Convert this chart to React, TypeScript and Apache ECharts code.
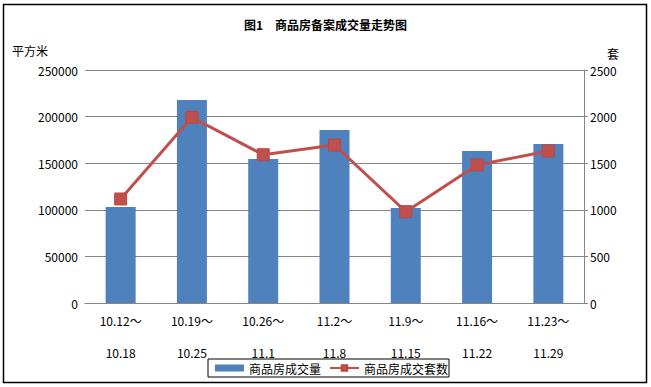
import React, { useEffect, useRef } from "react";
import * as echarts from "echarts";

const categories = [
  "10.12～\n10.18",
  "10.19～\n10.25",
  "10.26～\n11.1",
  "11.2～\n11.8",
  "11.9～\n11.15",
  "11.16～\n11.22",
  "11.23～\n11.29",
];
const areaValues = [103000, 217800, 154500, 185600, 102000, 163000, 170600];
const unitValues = [1116, 1992, 1591, 1695, 980, 1481, 1631];
const leftTicks = { min: 0, max: 250000, interval: 50000 };
const rightTicks = { min: 0, max: 2500, interval: 500 };

const FONT = "'Noto Sans CJK SC', 'DejaVu Sans', sans-serif";

export default function App() {
  const ref = useRef<HTMLDivElement>(null);
  useEffect(() => {
    document.body.style.margin = "0";
    const chart = echarts.init(ref.current!, null, { renderer: "svg" });
    chart.setOption({
      animation: false,
      backgroundColor: "#fff",
      textStyle: { fontFamily: FONT },
      title: {
        text: "图1　商品房备案成交量走势图",
        left: "center",
        top: 13,
        textStyle: { fontSize: 12, fontWeight: "bold", color: "#000", fontFamily: FONT },
      },
      graphic: [
        {
          type: "rect",
          shape: { x: 3.5, y: 4.5, width: 643, height: 378 },
          style: { fill: "none", stroke: "#000", lineWidth: 1.5 },
          silent: true,
        },
        {
          type: "text",
          x: 12,
          y: 44,
          style: { text: "平方米", fontSize: 12, fill: "#000", fontFamily: FONT },
        },
        {
          type: "text",
          x: 607,
          y: 47,
          style: { text: "套", fontSize: 12, fill: "#000", fontFamily: FONT },
        },
      ],
      legend: {
        left: 208,
        top: 359,
        orient: "horizontal",
        borderColor: "#000",
        borderWidth: 1,
        borderRadius: 0,
        padding: [3, 1, 3, 7],
        itemGap: 8,
        itemWidth: 29,
        itemHeight: 7,
        textStyle: { fontSize: 12, color: "#000", fontFamily: FONT },
        data: [
          { name: "商品房成交量", icon: "rect" },
          { name: "商品房成交套数" },
        ],
      },
      grid: { left: 85, right: 67, top: 70, bottom: 84 },
      xAxis: {
        type: "category",
        data: categories,
        axisLine: { show: true, lineStyle: { color: "#868686", width: 1 } },
        axisTick: { show: false },
        axisLabel: {
          interval: 0,
          margin: 1,
          fontSize: 12,
          lineHeight: 32,
          color: "#000",
          fontFamily: FONT,
        },
      },
      yAxis: [
        {
          type: "value",
          min: leftTicks.min,
          max: leftTicks.max,
          interval: leftTicks.interval,
          axisLine: { show: false },
          axisTick: { show: false },
          splitLine: { show: true, lineStyle: { color: "#868686", width: 1 } },
          axisLabel: {
            fontSize: 12,
            color: "#000",
            margin: 7,
            fontFamily: FONT,
            formatter: (v: number) => String(v),
          },
        },
        {
          type: "value",
          min: rightTicks.min,
          max: rightTicks.max,
          interval: rightTicks.interval,
          position: "right",
          axisLine: { show: true, lineStyle: { color: "#868686", width: 1 } },
          axisTick: { show: true, length: 4, lineStyle: { color: "#868686" } },
          splitLine: { show: false },
          axisLabel: {
            fontSize: 12,
            color: "#000",
            margin: 6,
            fontFamily: FONT,
            formatter: (v: number) => String(v),
          },
        },
      ],
      series: [
        {
          name: "商品房成交量",
          type: "bar",
          data: areaValues,
          barWidth: 30,
          itemStyle: { color: "#4F81BD" },
          yAxisIndex: 0,
        },
        {
          name: "商品房成交套数",
          type: "line",
          data: unitValues,
          yAxisIndex: 1,
          symbol: "rect",
          symbolSize: 12,
          lineStyle: { color: "#C0504D", width: 3 },
          itemStyle: { color: "#C0504D", borderColor: "#B8474A", borderWidth: 1 },
        },
      ],
    });
    return () => chart.dispose();
  }, []);
  return <div ref={ref} style={{ width: 651, height: 387 }} />;
}
